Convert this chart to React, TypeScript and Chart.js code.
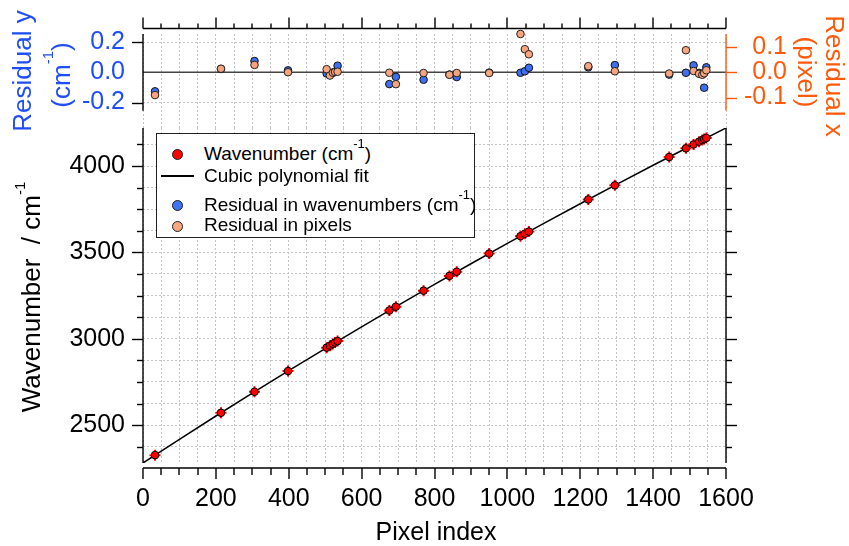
import React, { useEffect, useRef } from "react";
import { Chart, registerables } from "chart.js";
Chart.register(...registerables);

// ---------- data ----------
const PIXELS = [33, 214, 306, 398, 504, 513, 521, 527, 534, 676, 694, 770, 841, 861, 950, 1036, 1048, 1059, 1222, 1295, 1444, 1490, 1511, 1526, 1535, 1540, 1546];
const WAVENUMBERS = [2326.5, 2571.6, 2693.3, 2813.1, 2948.6, 2960.0, 2970.2, 2977.8, 2986.6, 3163.5, 3185.7, 3278.4, 3364.0, 3387.9, 3493.3, 3593.8, 3607.8, 3620.4, 3806.4, 3888.2, 4052.2, 4102.2, 4124.8, 4140.9, 4150.6, 4156.0, 4162.4];
const RESID_WN = [-0.126, 0.022, 0.075, 0.013, -0.008, -0.012, -0.002, 0.004, 0.044, -0.078, -0.030, -0.049, -0.015, -0.031, -0.002, -0.003, 0.007, 0.030, 0.033, 0.048, -0.015, -0.003, 0.046, -0.004, -0.010, -0.102, 0.033];
const RESID_PX = [-0.090, 0.014, 0.029, 0.000, 0.012, -0.013, -0.002, 0.001, 0.002, -0.002, -0.047, -0.003, -0.010, -0.003, -0.003, 0.151, 0.091, 0.071, 0.024, 0.004, -0.005, 0.087, 0.005, -0.006, -0.010, -0.004, 0.008];
const FIT_PIXELS = [0, 100, 200, 300, 400, 500, 600, 700, 800, 900, 1000, 1100, 1200, 1300, 1400, 1500, 1600];
const FIT_WAVENUMBERS = [2281.0, 2418.2, 2553.0, 2685.4, 2815.6, 2943.6, 3069.4, 3193.1, 3314.6, 3434.3, 3551.9, 3667.7, 3781.7, 3893.8, 4004.2, 4112.9, 4220.0];

const X_LABEL_VALUES = [0, 200, 400, 600, 800, 1000, 1200, 1400, 1600];
const Y_TICK_VALUES = [2375, 2500, 2625, 2750, 2875, 3000, 3125, 3250, 3375, 3500, 3625, 3750, 3875, 4000, 4125];
const Y_LABEL_VALUES = [2500, 3000, 3500, 4000];
const RESY_TICKS = [-0.2, 0, 0.2];
const RESX_TICKS = [-0.1, 0, 0.1];

const FONT = "'Liberation Sans', Arial, Helvetica, sans-serif";
const BLUE_TXT = "#1f4ef5";
const ORANGE_TXT = "#ff5a0a";
const BLUE = "#3d6ff0";
const ORANGE = "#f8a57f";
const GRID = "#c4c4c4";

function tickLine(ctx: CanvasRenderingContext2D, x1: number, y1: number, x2: number, y2: number) {
  ctx.beginPath();
  ctx.moveTo(x1, y1);
  ctx.lineTo(x2, y2);
  ctx.stroke();
}

const mainAxesPlugin = {
  id: "mainAxes",
  afterDraw(chart: any) {
    const { ctx, chartArea: a, scales } = chart;
    const xs = scales.x, ys = scales.y;
    ctx.save();
    ctx.strokeStyle = "#000";
    ctx.lineWidth = 1.4;
    const L = Math.round(a.left), R = Math.round(a.right), T = a.top, B = a.bottom;
    tickLine(ctx, L, T, L, B);
    tickLine(ctx, R, T, R, B);
    const yb = B + 5;
    tickLine(ctx, L, yb, R, yb);
    ys.ticks.forEach((t: any) => {
      const py = Math.round(ys.getPixelForValue(t.value)) + 0.5;
      const major = Y_LABEL_VALUES.includes(t.value);
      const len = major ? 11 : 6;
      tickLine(ctx, L - len, py, L, py);
      tickLine(ctx, R, py, R + len, py);
    });
    xs.ticks.forEach((t: any) => {
      const px = Math.round(xs.getPixelForValue(t.value));
      const major = X_LABEL_VALUES.includes(t.value);
      const len = major ? 11 : 7;
      tickLine(ctx, px, yb, px, yb + len);
    });
    ctx.restore();
  },
};

const topAxesPlugin = {
  id: "topAxes",
  beforeDatasetsDraw(chart: any) {
    const { ctx, chartArea: a, scales } = chart;
    const yl = scales.yl;
    ctx.save();
    ctx.strokeStyle = "#444";
    ctx.lineWidth = 1.6;
    const y0 = yl.getPixelForValue(0);
    tickLine(ctx, Math.round(a.left), y0, Math.round(a.right), y0);
    ctx.restore();
  },
  afterDraw(chart: any) {
    const { ctx, chartArea: a, scales } = chart;
    const xs = scales.x, yl = scales.yl, yr = scales.yr;
    ctx.save();
    const L = Math.round(a.left), R = Math.round(a.right);
    ctx.strokeStyle = "#000";
    ctx.lineWidth = 1.4;
    const ya = a.top - 5.5;
    tickLine(ctx, L, ya, R, ya);
    xs.ticks.forEach((t: any) => {
      const px = Math.round(xs.getPixelForValue(t.value));
      const major = X_LABEL_VALUES.includes(t.value);
      tickLine(ctx, px, ya, px, ya - (major ? 11 : 5));
    });
    const yTop = yl.getPixelForValue(0.254);
    const yBot = yl.getPixelForValue(-0.254);
    tickLine(ctx, L, yTop, L, yBot);
    [-0.2, 0.2].forEach((v) => {
      const py = Math.round(yl.getPixelForValue(v)) + 0.5;
      tickLine(ctx, L - 11, py, L, py);
    });
    ctx.strokeStyle = ORANGE_TXT;
    tickLine(ctx, R, yr.getPixelForValue(0.151), R, yr.getPixelForValue(-0.151));
    RESX_TICKS.forEach((v) => {
      const py = Math.round(yr.getPixelForValue(v)) + 0.5;
      tickLine(ctx, R, py, R + 11, py);
    });
    ctx.restore();
  },
};

const tickFont = { family: FONT, size: 25 };

export default function App() {
  const mainRef = useRef<HTMLCanvasElement>(null);
  const topRef = useRef<HTMLCanvasElement>(null);

  useEffect(() => {
    const pts = PIXELS.map((p, i) => ({ x: p, y: WAVENUMBERS[i] }));
    const fit = FIT_PIXELS.map((p, i) => ({ x: p, y: FIT_WAVENUMBERS[i] }));
    const main = new Chart(mainRef.current!, {
      type: "scatter",
      data: {
        datasets: [
          {
            label: "Wavenumber",
            data: pts,
            pointRadius: 3.8,
            pointBackgroundColor: "#ff0000",
            pointBorderColor: "#000",
            pointBorderWidth: 1,
            showLine: false,
            clip: false,
          },
          {
            label: "err",
            data: pts,
            pointStyle: "cross",
            pointRadius: 5.5,
            pointBorderColor: "#ff0000",
            pointBorderWidth: 2,
            showLine: false,
            clip: false,
          },
          {
            label: "Cubic polynomial fit",
            data: fit,
            showLine: true,
            borderColor: "#000",
            borderWidth: 1.5,
            pointRadius: 0,
            fill: false,
          },
        ],
      } as any,
      options: {
        animation: false,
        responsive: true,
        maintainAspectRatio: false,
        devicePixelRatio: 1,
        events: [],
        layout: { padding: { left: 0, top: 128, right: 123, bottom: 0 } },
        plugins: { legend: { display: false }, tooltip: { enabled: false } },
        scales: {
          x: {
            type: "linear",
            position: "bottom",
            min: 0,
            max: 1600,
            afterFit: (s: any) => { s.height = 83; },
            border: { display: false, dash: [2, 2] },
            grid: { color: GRID, drawTicks: false, lineWidth: 1 },
            ticks: {
              stepSize: 50,
              autoSkip: false,
              maxRotation: 0,
              minRotation: 0,
              padding: 21,
              color: "#000",
              font: tickFont,
              callback: (v: any) => (X_LABEL_VALUES.includes(Number(v)) ? String(v) : ""),
            },
          },
          y: {
            type: "linear",
            position: "left",
            min: 2281,
            max: 4220,
            afterFit: (s: any) => { s.width = 143; },
            afterBuildTicks: (s: any) => { s.ticks = Y_TICK_VALUES.map((v) => ({ value: v })); },
            border: { display: false, dash: [2, 2] },
            grid: { color: GRID, drawTicks: false, lineWidth: 1 },
            ticks: {
              autoSkip: false,
              padding: 18,
              color: "#000",
              font: tickFont,
              callback: (v: any) => (Y_LABEL_VALUES.includes(Number(v)) ? String(v) : ""),
            },
          },
        },
      } as any,
      plugins: [mainAxesPlugin],
    });

    const rpx = PIXELS.map((p, i) => ({ x: p, y: RESID_PX[i] }));
    const rwn = PIXELS.map((p, i) => ({ x: p, y: RESID_WN[i] }));
    const top = new Chart(topRef.current!, {
      type: "scatter",
      data: {
        datasets: [
          {
            label: "Residual in pixels",
            data: rpx,
            yAxisID: "yr",
            pointRadius: 3.8,
            pointBackgroundColor: ORANGE,
            pointBorderColor: "#222",
            pointBorderWidth: 1,
            clip: false,
          },
          {
            label: "Residual in wavenumbers",
            data: rwn,
            yAxisID: "yl",
            pointRadius: 3.8,
            pointBackgroundColor: BLUE,
            pointBorderColor: "#111",
            pointBorderWidth: 1,
            clip: false,
          },
        ],
      } as any,
      options: {
        animation: false,
        responsive: true,
        maintainAspectRatio: false,
        devicePixelRatio: 1,
        events: [],
        layout: { padding: { left: 0, top: 0, right: 62, bottom: 418 } },
        plugins: { legend: { display: false }, tooltip: { enabled: false } },
        scales: {
          x: {
            type: "linear",
            position: "top",
            min: 0,
            max: 1600,
            afterFit: (s: any) => { s.height = 34; },
            border: { display: false, dash: [2, 2] },
            grid: { color: GRID, drawTicks: false, lineWidth: 1 },
            ticks: { stepSize: 50, autoSkip: false, display: false, maxRotation: 0 },
          },
          yl: {
            type: "linear",
            position: "left",
            min: -0.369,
            max: 0.254,
            afterFit: (s: any) => { s.width = 143; },
            afterBuildTicks: (s: any) => { s.ticks = RESY_TICKS.map((v) => ({ value: v })); },
            border: { display: false, dash: [2, 2] },
            grid: { color: GRID, drawTicks: false, lineWidth: 1 },
            ticks: {
              autoSkip: false,
              padding: 18,
              color: BLUE_TXT,
              font: tickFont,
              callback: (v: any) => Number(v).toFixed(1),
            },
          },
          yr: {
            type: "linear",
            position: "right",
            min: -0.22,
            max: 0.151,
            afterFit: (s: any) => { s.width = 61; },
            afterBuildTicks: (s: any) => { s.ticks = RESX_TICKS.map((v) => ({ value: v })); },
            border: { display: false },
            grid: { display: false, drawTicks: false },
            ticks: {
              autoSkip: false,
              padding: 14,
              crossAlign: "far",
              color: ORANGE_TXT,
              font: tickFont,
              callback: (v: any) => Number(v).toFixed(1),
            },
          },
        },
      } as any,
      plugins: [topAxesPlugin],
    });

    return () => {
      main.destroy();
      top.destroy();
    };
  }, []);

  const abs: React.CSSProperties = { position: "absolute", left: 0, top: 0, width: 849, height: 546 };
  const rotText = (cx: number, cy: number, rot: number, color: string, size: number, content: React.ReactNode) => (
    <div
      style={{
        position: "absolute",
        left: cx,
        top: cy,
        transform: `translate(-50%, -50%) rotate(${rot}deg)`,
        whiteSpace: "pre",
        fontSize: size,
        lineHeight: `${size}px`,
        color,
        fontFamily: FONT,
      }}
    >
      {content}
    </div>
  );
  const sup = (txt: string, size: number, raise: number) => (
    <span style={{ fontSize: size, position: "relative", top: -raise }}>{txt}</span>
  );
  const legText = (top: number, content: React.ReactNode) => (
    <div style={{ position: "absolute", left: 204, top, fontSize: 19, lineHeight: "19px", whiteSpace: "pre", color: "#000", fontFamily: FONT }}>
      {content}
    </div>
  );
  const dot = (cx: number, cy: number, color: string) => (
    <div
      style={{
        position: "absolute",
        left: cx - 5.5,
        top: cy - 5.5,
        width: 11,
        height: 11,
        borderRadius: "50%",
        background: color,
        border: "1px solid #222",
        boxSizing: "border-box",
      }}
    />
  );

  return (
    <div style={{ ...abs, background: "#fff", overflow: "hidden", fontFamily: FONT }}>
      <div style={abs}>
        <canvas ref={mainRef} />
      </div>
      <div style={abs}>
        <canvas ref={topRef} />
      </div>

      {/* axis titles */}
      {rotText(32.7, 297, -90, "#000", 26, <>{"Wavenumber  / cm"}{sup("-1", 15, 15)}</>)}
      {rotText(22.3, 71, -90, BLUE_TXT, 26, "Residual y")}
      {rotText(63, 74.5, -90, BLUE_TXT, 26, <>{"(cm"}{sup("-1", 15, 17)}{")"}</>)}
      {rotText(835, 75.5, 90, ORANGE_TXT, 26, "Residual x")}
      {rotText(807, 71.5, 90, ORANGE_TXT, 26, "(pixel)")}
      <div
        style={{
          position: "absolute",
          left: 436,
          top: 519,
          transform: "translateX(-50%)",
          fontSize: 25,
          lineHeight: "25px",
          whiteSpace: "pre",
          fontFamily: FONT,
          color: "#000",
        }}
      >
        Pixel index
      </div>

      {/* legend */}
      <div
        style={{
          position: "absolute",
          left: 155.5,
          top: 133,
          width: 319,
          height: 105,
          border: "1px solid #222",
          boxSizing: "border-box",
          background: "#fff",
        }}
      />
      {dot(177.7, 154.3, "#ff0000")}
      <div style={{ position: "absolute", left: 161, top: 175.2, width: 33, height: 1.6, background: "#000" }} />
      {dot(177.7, 205, "#4272f5")}
      {dot(177.7, 226, "#f9a882")}
      {legText(144.4, <>{"Wavenumber (cm"}{sup("-1", 13, 12)}{")"}</>)}
      {legText(166.2, "Cubic polynomial fit")}
      {legText(195.2, <>{"Residual in wavenumbers (cm"}{sup("-1", 13, 12)}{")"}</>)}
      {legText(215.2, "Residual in pixels")}
    </div>
  );
}
